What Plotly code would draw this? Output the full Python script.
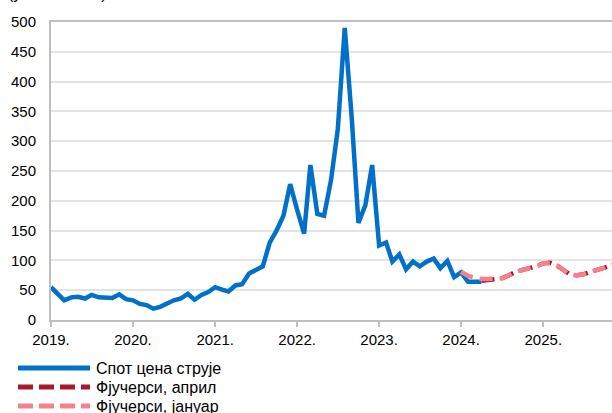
import pandas as pd
import plotly.graph_objects as go

# ---------------- data ----------------
spot_start = "2019-01-01"
spot_values = [
    55, 44, 33, 38, 39, 36, 42, 38, 37, 37, 43, 35,          # 2019
    33, 27, 25, 19, 22, 28, 33, 36, 44, 34, 42, 47,          # 2020
    55, 51, 48, 58, 60, 78, 83, 90, 130, 150, 175, 228,      # 2021
    185, 145, 260, 178, 175, 235, 320, 490, 340, 163, 193, 260,  # 2022
    125, 130, 98, 110, 85, 98, 90, 98, 103, 87, 99, 72,      # 2023
    80, 64, 64, 64,                                          # 2024
]

jan_start = "2024-01-01"
jan_futures = [
    81, 74, 71, 69, 69, 69, 70, 75, 81, 84, 87, 90,          # 2024
    95, 96, 92, 84, 76, 75, 77, 81, 84, 88, 92, 96,          # 2025
]

apr_start = "2024-04-01"
apr_futures = [
    66, 67, 69, 70, 75, 81, 84, 87, 90,                      # 2024
    95, 96, 92, 84, 76, 75, 77, 81, 84, 88, 92, 96,          # 2025
]

year_ticks = ["2019", "2020", "2021", "2022", "2023", "2024", "2025"]
year_labels = ["2019.", "2020.", "2021.", "2022.", "2023.", "2024.", "2025."]
y_ticks = list(range(0, 501, 50))

series_names = ["Спот цена струје", "Фјучерси, април", "Фјучерси, јануар"]
unit_label = "(у EUR/MWh)"

# ---------------- styles ----------------
BLUE = "#0070C8"
DARK_RED = "#A8182E"
PINK = "#F7808E"
GRID = "#E3E3E3"
AXIS = "#BFBFBF"
FONT = "Liberation Sans, Arial, sans-serif"

spot_x = pd.date_range(spot_start, periods=len(spot_values), freq="MS")
jan_x = pd.date_range(jan_start, periods=len(jan_futures), freq="MS")
apr_x = pd.date_range(apr_start, periods=len(apr_futures), freq="MS")

fig = go.Figure()
fig.add_trace(go.Scatter(x=spot_x, y=spot_values, mode="lines", name=series_names[0],
                         line=dict(color=BLUE, width=4.5), showlegend=False))
fig.add_trace(go.Scatter(x=apr_x, y=apr_futures, mode="lines", name=series_names[1],
                         line=dict(color=DARK_RED, width=4.5, dash="13px,7px"), showlegend=False))
fig.add_trace(go.Scatter(x=jan_x, y=jan_futures, mode="lines", name=series_names[2],
                         line=dict(color=PINK, width=4.5, dash="13px,7px"), showlegend=False))

# plot area geometry (pixels)
L, T, W, H = 51, 22, 561, 298
def px(x):
    return (x - L) / W
def py(y):
    return (T + H - y) / H

# custom legend (long line samples like the original)
legend_rows = [(368, BLUE, "solid"), (387, DARK_RED, "15px,6px"), (406, PINK, "15px,6px")]
for (yy, col, dash), name in zip(legend_rows, series_names):
    fig.add_shape(type="line", xref="paper", yref="paper",
                  x0=px(18), x1=px(90), y0=py(yy), y1=py(yy),
                  line=dict(color=col, width=5, dash=dash))
    fig.add_annotation(xref="paper", yref="paper", x=px(94), y=py(yy),
                       text=name, showarrow=False, xanchor="left", yanchor="middle",
                       font=dict(family=FONT, size=16, color="#000000"))

# unit label, mostly cut off at the top like in the original
fig.add_annotation(xref="paper", yref="paper", x=px(6), y=py(4),
                   text=unit_label, showarrow=False, xanchor="left", yanchor="bottom",
                   font=dict(family=FONT, size=16, color="#000000"))

fig.update_layout(
    width=612, height=413,
    margin=dict(l=L, r=0, t=T, b=413 - T - H),
    paper_bgcolor="white", plot_bgcolor="white",
    font=dict(family=FONT, size=15, color="#000000"),
    showlegend=False,
)
fig.update_xaxes(
    type="date",
    range=["2019-01-01", "2025-11-03"],
    tickvals=[f"{y}-01-01" for y in year_ticks],
    ticktext=year_labels,
    showgrid=False,
    showline=True, linecolor=AXIS, linewidth=2, mirror=True,
    ticks="outside", ticklen=5, tickwidth=2, tickcolor=AXIS,
    tickfont=dict(family=FONT, size=15, color="#000000"),
    zeroline=False,
)
fig.update_yaxes(
    range=[0, 500],
    tickvals=y_ticks,
    showgrid=True, gridcolor=GRID, gridwidth=2,
    showline=True, linecolor=AXIS, linewidth=2,
    ticks="", ticklabelstandoff=10,
    tickfont=dict(family=FONT, size=15, color="#000000"),
    zeroline=False,
)

fig.write_html("out.html",
               config={"displayModeBar": False},
               post_script="document.body.style.margin='0';document.body.style.overflow='hidden';")
